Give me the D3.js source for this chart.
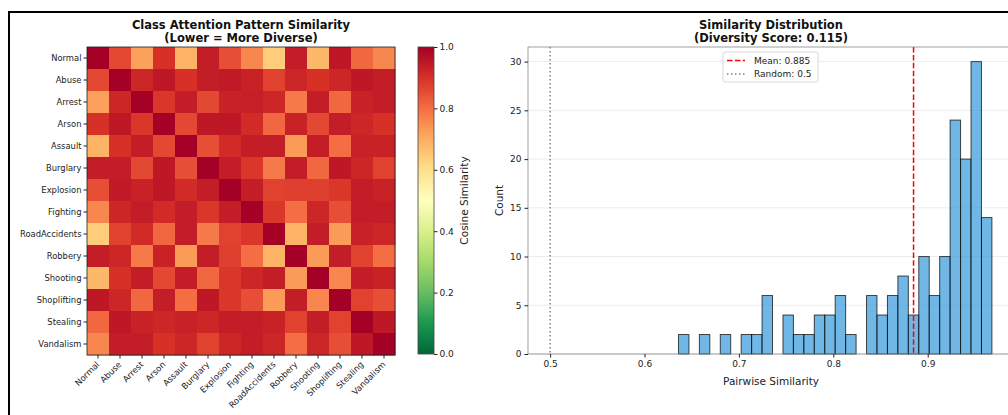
<!DOCTYPE html>
<html lang="en">
<head>
  <meta charset="UTF-8" />
  <title>Class Attention Similarity</title>
  <script src="https://d3js.org/d3.v7.min.js"></script>
  <style>
    body { margin: 0; background: #fff; }
    svg { display: block; font-family: "DejaVu Sans", sans-serif; }
    .tick text { fill: #222; }
  </style>
</head>
<body>
  <svg id="chart" width="1008" height="415"></svg>
  <script>
    const classes = ["Normal", "Abuse", "Arrest", "Arson", "Assault", "Burglary", "Explosion",
      "Fighting", "RoadAccidents", "Robbery", "Shooting", "Shoplifting", "Stealing", "Vandalism"];

    // cosine similarity between class attention patterns
    const simMatrix = [
      [1.00, 0.86, 0.72, 0.90, 0.69, 0.94, 0.85, 0.76, 0.64, 0.94, 0.68, 0.95, 0.81, 0.76],
      [0.86, 1.00, 0.92, 0.95, 0.90, 0.94, 0.945, 0.93, 0.87, 0.92, 0.90, 0.92, 0.95, 0.94],
      [0.72, 0.92, 1.00, 0.89, 0.94, 0.86, 0.93, 0.935, 0.92, 0.78, 0.94, 0.81, 0.93, 0.94],
      [0.90, 0.95, 0.89, 1.00, 0.86, 0.95, 0.95, 0.91, 0.81, 0.93, 0.86, 0.94, 0.92, 0.90],
      [0.69, 0.90, 0.94, 0.86, 1.00, 0.85, 0.91, 0.94, 0.94, 0.73, 0.94, 0.80, 0.93, 0.93],
      [0.94, 0.94, 0.86, 0.95, 0.85, 1.00, 0.94, 0.89, 0.78, 0.94, 0.81, 0.95, 0.92, 0.87],
      [0.85, 0.945, 0.93, 0.95, 0.91, 0.94, 1.00, 0.94, 0.87, 0.875, 0.875, 0.89, 0.94, 0.93],
      [0.76, 0.92, 0.94, 0.91, 0.94, 0.89, 0.94, 1.00, 0.89, 0.80, 0.92, 0.85, 0.94, 0.94],
      [0.64, 0.87, 0.91, 0.81, 0.94, 0.78, 0.87, 0.89, 1.00, 0.69, 0.94, 0.73, 0.93, 0.92],
      [0.94, 0.92, 0.78, 0.93, 0.73, 0.94, 0.875, 0.80, 0.69, 1.00, 0.73, 0.94, 0.87, 0.80],
      [0.68, 0.90, 0.94, 0.86, 0.94, 0.81, 0.89, 0.92, 0.94, 0.73, 1.00, 0.76, 0.94, 0.93],
      [0.95, 0.92, 0.81, 0.94, 0.80, 0.95, 0.89, 0.85, 0.73, 0.94, 0.76, 1.00, 0.87, 0.85],
      [0.81, 0.95, 0.93, 0.92, 0.93, 0.92, 0.94, 0.94, 0.93, 0.87, 0.94, 0.87, 1.00, 0.95],
      [0.76, 0.94, 0.94, 0.90, 0.92, 0.87, 0.92, 0.94, 0.92, 0.80, 0.92, 0.85, 0.95, 1.00]
    ];

    const colorbarTicks = [0.0, 0.2, 0.4, 0.6, 0.8, 1.0];

    // histogram of pairwise similarities (30 bins)
    const histRange = [0.636, 0.968];
    const histCounts = [2, 0, 2, 0, 2, 0, 2, 2, 6, 0, 4, 2, 2, 4, 4, 6, 2, 0, 6, 4, 6, 8, 4, 10, 6, 10, 24, 20, 30, 14];
    const histXTicks = [0.5, 0.6, 0.7, 0.8, 0.9];
    const histYTicks = [0, 5, 10, 15, 20, 25, 30];
    const meanSim = 0.885;
    const randomSim = 0.5;
    const diversityScore = 0.115;

    // RdYlGn reversed (matplotlib RdYlGn_r)
    const rdylgn = ["#006837", "#1a9850", "#66bd63", "#a6d96a", "#d9ef8b", "#ffffbf",
      "#fee08b", "#fdae61", "#f46d43", "#d73027", "#a50026"];
    const color = d3.scaleLinear()
      .domain(d3.range(rdylgn.length).map(i => i / (rdylgn.length - 1)))
      .range(rdylgn)
      .interpolate(d3.interpolateRgb)
      .clamp(true);

    const svg = d3.select("#chart");
    svg.append("rect").attr("width", 1008).attr("height", 415).attr("fill", "#fff");

    // figure frame
    svg.append("rect")
      .attr("x", 9).attr("y", 12).attr("width", 1200).attr("height", 600)
      .attr("fill", "none").attr("stroke", "#000").attr("stroke-width", 2);

    // ---------- heatmap ----------
    const hm = { x0: 87, y0: 47, size: 308 };
    const xBand = d3.scaleBand().domain(classes).range([hm.x0, hm.x0 + hm.size]);
    const yBand = d3.scaleBand().domain(classes).range([hm.y0, hm.y0 + hm.size]);

    const cells = [];
    simMatrix.forEach((row, i) => row.forEach((v, j) => cells.push({ r: classes[i], c: classes[j], v })));

    svg.append("g").selectAll("rect")
      .data(cells)
      .enter()
      .append("rect")
      .attr("x", d => xBand(d.c))
      .attr("y", d => yBand(d.r))
      .attr("width", xBand.bandwidth() + 0.5)
      .attr("height", yBand.bandwidth() + 0.5)
      .attr("fill", d => color(d.v));

    svg.append("rect")
      .attr("x", hm.x0).attr("y", hm.y0).attr("width", hm.size).attr("height", hm.size)
      .attr("fill", "none").attr("stroke", "#222").attr("stroke-width", 0.8);

    const hmYAxis = svg.append("g")
      .attr("transform", `translate(${hm.x0},0)`)
      .call(d3.axisLeft(yBand).tickSize(3.5).tickPadding(2));
    hmYAxis.select(".domain").remove();
    hmYAxis.selectAll("text").attr("font-size", 8.4).attr("font-family", "DejaVu Sans");
    hmYAxis.selectAll("line").attr("stroke", "#222");

    const hmXAxis = svg.append("g")
      .attr("transform", `translate(0,${hm.y0 + hm.size})`)
      .call(d3.axisBottom(xBand).tickSize(3.5));
    hmXAxis.select(".domain").remove();
    hmXAxis.selectAll("line").attr("stroke", "#222");
    hmXAxis.selectAll("text")
      .attr("font-size", 8.4).attr("font-family", "DejaVu Sans")
      .attr("text-anchor", "end")
      .attr("dy", null).attr("y", null)
      .attr("transform", "translate(2,10) rotate(-45)");

    const titleHm = svg.append("text")
      .attr("x", hm.x0 + hm.size / 2).attr("text-anchor", "middle")
      .attr("font-size", 11.5).attr("font-weight", "bold").attr("fill", "#111");
    titleHm.append("tspan").attr("x", hm.x0 + hm.size / 2).attr("y", 29).text("Class Attention Pattern Similarity");
    titleHm.append("tspan").attr("x", hm.x0 + hm.size / 2).attr("y", 42).text("(Lower = More Diverse)");

    // ---------- colorbar ----------
    const cb = { x: 418, y: 47, w: 16, h: 307 };
    const grad = svg.append("defs").append("linearGradient")
      .attr("id", "cbgrad").attr("x1", 0).attr("y1", 1).attr("x2", 0).attr("y2", 0);
    d3.range(0, 1.0001, 0.02).forEach(t => {
      grad.append("stop").attr("offset", t).attr("stop-color", color(t));
    });
    svg.append("rect")
      .attr("x", cb.x).attr("y", cb.y).attr("width", cb.w).attr("height", cb.h)
      .attr("fill", "url(#cbgrad)").attr("stroke", "#444").attr("stroke-width", 0.8);

    const cbScale = d3.scaleLinear().domain([0, 1]).range([cb.y + cb.h, cb.y]);
    const cbAxis = svg.append("g")
      .attr("transform", `translate(${cb.x + cb.w},0)`)
      .call(d3.axisRight(cbScale).tickValues(colorbarTicks).tickFormat(d3.format(".1f")).tickSize(3.5).tickPadding(2));
    cbAxis.select(".domain").remove();
    cbAxis.selectAll("text").attr("font-size", 9).attr("font-family", "DejaVu Sans");
    cbAxis.selectAll("line").attr("stroke", "#222");

    svg.append("text")
      .attr("transform", `translate(468,${cb.y + cb.h / 2}) rotate(-90)`)
      .attr("text-anchor", "middle").attr("font-size", 10.5).attr("fill", "#222")
      .text("Cosine Similarity");

    // ---------- histogram ----------
    const hp = { left: 528, right: 1014, top: 47, bottom: 354 };
    const lo = Math.min(randomSim, histRange[0]);
    const hi = Math.max(meanSim, histRange[1]);
    const pad = (hi - lo) * 0.05;
    const x = d3.scaleLinear().domain([lo - pad, hi + pad]).range([hp.left, hp.right]);
    const y = d3.scaleLinear().domain([0, d3.max(histCounts) * 1.05]).range([hp.bottom, hp.top]);

    const binW = (histRange[1] - histRange[0]) / histCounts.length;
    const bins = histCounts.map((c, i) => ({ x0: histRange[0] + i * binW, x1: histRange[0] + (i + 1) * binW, c }));

    // y grid
    svg.append("g").selectAll("line")
      .data(histYTicks)
      .enter()
      .append("line")
      .attr("x1", hp.left).attr("x2", hp.right)
      .attr("y1", d => y(d)).attr("y2", d => y(d))
      .attr("stroke", "#b0b0b0").attr("stroke-opacity", 0.3).attr("stroke-width", 0.8);

    svg.append("g").selectAll("rect")
      .data(bins.filter(b => b.c > 0))
      .enter()
      .append("rect")
      .attr("x", d => x(d.x0))
      .attr("y", d => y(d.c))
      .attr("width", d => x(d.x1) - x(d.x0))
      .attr("height", d => y(0) - y(d.c))
      .attr("fill", "#3498db").attr("fill-opacity", 0.7)
      .attr("stroke", "#000").attr("stroke-opacity", 0.7).attr("stroke-width", 1);

    svg.append("line")
      .attr("x1", x(meanSim)).attr("x2", x(meanSim)).attr("y1", hp.top).attr("y2", hp.bottom)
      .attr("stroke", "red").attr("stroke-width", 1.5).attr("stroke-dasharray", "5.5,2.4");
    svg.append("line")
      .attr("x1", x(randomSim)).attr("x2", x(randomSim)).attr("y1", hp.top).attr("y2", hp.bottom)
      .attr("stroke", "gray").attr("stroke-width", 1.5).attr("stroke-dasharray", "1.5,2.5");

    svg.append("rect")
      .attr("x", hp.left).attr("y", hp.top).attr("width", hp.right - hp.left).attr("height", hp.bottom - hp.top)
      .attr("fill", "none").attr("stroke", "#888").attr("stroke-width", 0.8);

    const hx = svg.append("g")
      .attr("transform", `translate(0,${hp.bottom})`)
      .call(d3.axisBottom(x).tickValues(histXTicks).tickFormat(d3.format(".1f")).tickSize(3.5).tickPadding(3));
    hx.select(".domain").remove();
    hx.selectAll("text").attr("font-size", 9).attr("font-family", "DejaVu Sans");
    hx.selectAll("line").attr("stroke", "#222");

    const hy = svg.append("g")
      .attr("transform", `translate(${hp.left},0)`)
      .call(d3.axisLeft(y).tickValues(histYTicks).tickSize(3.5).tickPadding(3));
    hy.select(".domain").remove();
    hy.selectAll("text").attr("font-size", 9).attr("font-family", "DejaVu Sans");
    hy.selectAll("line").attr("stroke", "#222");

    svg.append("text")
      .attr("x", (hp.left + hp.right) / 2).attr("y", 385)
      .attr("text-anchor", "middle").attr("font-size", 10.5).attr("fill", "#222")
      .text("Pairwise Similarity");
    svg.append("text")
      .attr("transform", `translate(503,${(hp.top + hp.bottom) / 2}) rotate(-90)`)
      .attr("text-anchor", "middle").attr("font-size", 10.5).attr("fill", "#222")
      .text("Count");

    const cx = (hp.left + hp.right) / 2;
    const titleH = svg.append("text")
      .attr("text-anchor", "middle").attr("font-size", 11.5).attr("font-weight", "bold").attr("fill", "#111");
    titleH.append("tspan").attr("x", cx).attr("y", 29).text("Similarity Distribution");
    titleH.append("tspan").attr("x", cx).attr("y", 42).text(`(Diversity Score: ${diversityScore.toFixed(3)})`);

    // legend
    const lg = svg.append("g").attr("transform", "translate(723,52)");
    lg.append("rect").attr("width", 95).attr("height", 30).attr("rx", 2)
      .attr("fill", "#fff").attr("fill-opacity", 0.8).attr("stroke", "#ccc").attr("stroke-width", 0.8);
    const legendItems = [
      { label: `Mean: ${meanSim.toFixed(3)}`, stroke: "red", dash: "5.5,2.4" },
      { label: `Random: ${randomSim}`, stroke: "gray", dash: "1.5,2.5" }
    ];
    legendItems.forEach((d, i) => {
      const gy = 8.5 + i * 13.5;
      lg.append("line").attr("x1", 4).attr("x2", 22).attr("y1", gy).attr("y2", gy)
        .attr("stroke", d.stroke).attr("stroke-width", 1.5).attr("stroke-dasharray", d.dash);
      lg.append("text").attr("x", 31).attr("y", gy + 3.2).attr("font-size", 9).attr("fill", "#222").text(d.label);
    });
  </script>
</body>
</html>
